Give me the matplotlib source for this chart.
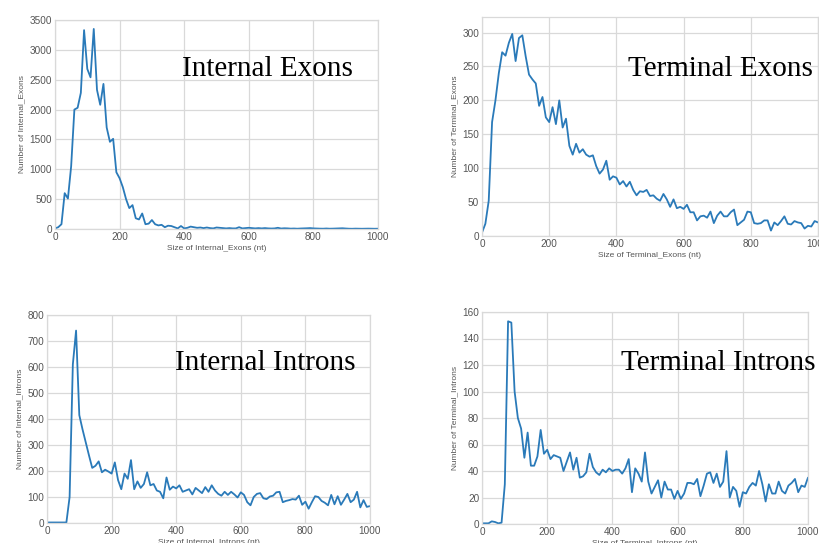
import numpy as np
import matplotlib
matplotlib.use("Agg")
import matplotlib.pyplot as plt

plt.style.use("seaborn-v0_8-whitegrid")
plt.rcParams["font.family"] = ["Liberation Sans", "DejaVu Sans"]

sizes = np.arange(0, 1001, 10)

internal_exons = [
    10, 30, 80, 600, 510, 1050, 2000, 2030, 2280, 3330,
    2680, 2540, 3350, 2330, 2080, 2430, 1700, 1460, 1510, 950,
    850, 700, 500, 350, 400, 180, 160, 260, 80, 90,
    150, 80, 60, 70, 30, 55, 50, 30, 10, 50,
    10, 20, 40, 30, 20, 25, 15, 25, 15, 10,
    25, 20, 15, 10, 15, 10, 10, 30, 10, 15,
    20, 15, 10, 15, 10, 15, 10, 8, 10, 20,
    8, 12, 10, 6, 8, 5, 8, 10, 12, 15,
    10, 8, 6, 5, 8, 5, 6, 8, 10, 12,
    8, 5, 4, 6, 5, 4, 5, 6, 5, 4,
    5,
]

terminal_exons = [
    5, 18, 52, 168, 200, 240, 271, 266, 285, 298,
    258, 292, 296, 265, 238, 231, 225, 192, 205, 175,
    168, 190, 165, 200, 160, 173, 133, 120, 136, 123,
    128, 120, 117, 119, 103, 92, 98, 111, 83, 88,
    86, 76, 81, 73, 80, 68, 60, 66, 65, 68,
    59, 60, 55, 52, 62, 54, 43, 54, 41, 43,
    40, 46, 35, 35, 23, 29, 30, 27, 36, 19,
    30, 36, 29, 29, 35, 39, 16, 20, 24, 36,
    35, 19, 18, 19, 23, 23, 8, 20, 16, 22,
    29, 18, 17, 22, 20, 19, 11, 15, 14, 22,
    20,
]

internal_introns = [
    2, 2, 2, 2, 2, 2, 2, 100, 610, 740,
    415, 360, 310, 260, 212, 220, 237, 195, 205, 198,
    190, 233, 165, 130, 190, 170, 242, 130, 160, 135,
    150, 195, 145, 150, 125, 120, 95, 175, 128, 140,
    133, 145, 120, 125, 130, 110, 135, 125, 115, 138,
    120, 145, 125, 112, 105, 120, 108, 120, 110, 98,
    118, 108, 80, 68, 100, 112, 115, 95, 92, 102,
    105, 118, 120, 80, 85, 88, 92, 90, 105, 70,
    82, 55, 80, 103, 100, 85, 78, 68, 108, 72,
    103, 70, 90, 112, 80, 90, 120, 60, 88, 62,
    65,
]

terminal_introns = [
    0.5, 0.5, 0.5, 2, 1.5, 0.5, 1, 30, 153, 152,
    100, 80, 72, 50, 69, 44, 44, 51, 71, 53,
    56, 49, 52, 51, 50, 40, 47, 54, 41, 50,
    35, 36, 39, 53, 43, 39, 37, 41, 39, 42,
    40, 41, 41, 38, 42, 49, 24, 42, 38, 32,
    54, 32, 23, 28, 33, 20, 32, 26, 26, 19,
    25, 19, 23, 31, 31, 30, 34, 21, 29, 38,
    39, 31, 38, 28, 32, 55, 20, 28, 25, 13,
    24, 23, 28, 31, 29, 40, 30, 17, 30, 23,
    23, 32, 25, 23, 29, 31, 34, 24, 29, 28,
    35,
]

W, H = 820, 543
panels = [
    # name, data, (left, right, top, bottom) px, ymax, ystep, title, title pos (x, baseline)
    ("Internal_Exons", internal_exons, (55, 378, 20, 229), 3500, 500, "Internal Exons", (182, 76)),
    ("Terminal_Exons", terminal_exons, (482, 818, 17, 236), 323, 50, "Terminal Exons", (628, 76)),
    ("Internal_Introns", internal_introns, (47, 370, 315, 523), 800, 100, "Internal Introns", (175, 370)),
    ("Terminal_Introns", terminal_introns, (482, 808, 312, 524), 160, 20, "Terminal Introns", (621, 370)),
]

fig = plt.figure(figsize=(W / 100, H / 100), dpi=100)
for name, vals, (l, r, t, b), ymax, ystep, title, (tx, ty) in panels:
    ax = fig.add_axes([l / W, 1 - b / H, (r - l) / W, (b - t) / H])
    ax.plot(sizes, vals, color="#2a7ab9", lw=1.3)
    ax.set_xlim(0, 1000)
    ax.set_ylim(0, ymax)
    ax.set_xticks(range(0, 1001, 200))
    ax.set_yticks(np.arange(0, ymax + 1, ystep))
    ax.grid(True, color="#d9d9d9", lw=0.9)
    for s in ax.spines.values():
        s.set_visible(True)
        s.set_color("#d9d9d9")
        s.set_linewidth(0.9)
    ax.tick_params(axis="both", labelsize=7.2, labelcolor="#555555", length=0, pad=2)
    ax.set_xlabel(f"Size of {name} (nt)", fontsize=6.0, color="#555555", labelpad=2)
    ax.set_ylabel(f"Number of {name}", fontsize=6.0, color="#555555", labelpad=3)
    fig.text(tx / W, 1 - ty / H, title, fontsize=21, family=["Liberation Serif", "DejaVu Serif"],
             color="black", va="baseline", ha="left")

fig.savefig("out.png", dpi=100)
